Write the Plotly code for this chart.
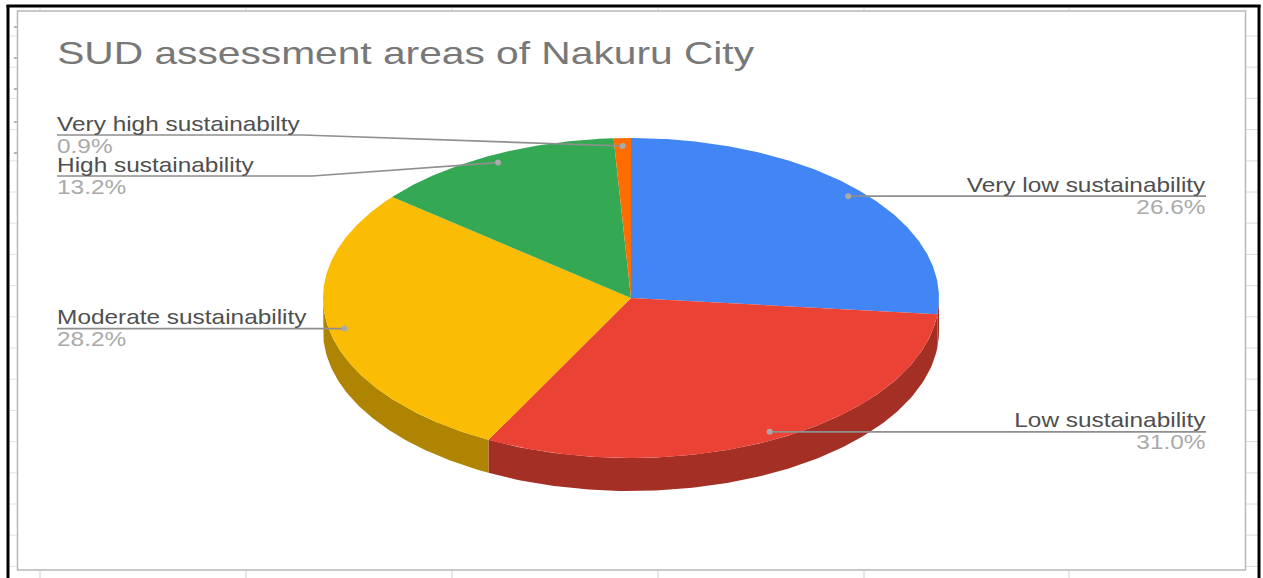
import numpy as np
import plotly.graph_objects as go

# Share of assessment areas per sustainability class (percent)
categories = ["Very low sustainability", "Low sustainability", "Moderate sustainability",
              "High sustainability", "Very high sustainabilty"]
shares = [26.6, 31.0, 28.2, 13.2, 0.9]
share_labels = ["26.6%", "31.0%", "28.2%", "13.2%", "0.9%"]
top_colors = ["#4285f4", "#ea4335", "#fbbc04", "#34a853", "#ff6d01"]
side_colors = ["#a42f25", "#a42f25", "#b08403", "#247538", "#b34c01"]
title_text = "SUD assessment areas of Nakuru City"

# Tilted-disc geometry in axis units (the axes run 1:1 with the page)
CX, CY, RX, RY, DEPTH = 631.0, 298.0, 308.0, 160.0, 33.0
ANCHOR_R = 0.95
LABEL_LEFT, LABEL_RIGHT = 57, 1206

# Leader settings per class: side, label y, elbow x
label_side = ["right", "right", "left", "left", "left"]
label_y = [197, 431, 329, 176, 135]
elbow_x = [None, None, None, 312, 303]

TEXT_DARK = "#4f4f4f"
TEXT_LIGHT = "#aaaaaa"
LEADER = "#8f8f8f"
FONT = "Liberation Sans"
TITLE_SIZE, LABEL_SIZE = 31.5, 21
TITLE_STRETCH, LABEL_STRETCH = 1.293, 1.162


def rim(theta_deg, drop=0.0, r=1.0):
    t = np.radians(theta_deg)
    return CX + r * RX * np.sin(t), CY - r * RY * np.cos(t) + drop


total = sum(shares)
edges = np.concatenate([[0.0], np.cumsum(shares)]) / total * 360.0

fig = go.Figure()

# Rim of the disc: only the part facing the viewer (90..270 degrees)
for i, name in enumerate(categories):
    a, b = max(edges[i], 90.0), min(edges[i + 1], 270.0)
    if a >= b:
        continue
    th = np.linspace(a, b, 120)
    x1, y1 = rim(th)
    x2, y2 = rim(th[::-1], DEPTH)
    fig.add_trace(go.Scatter(x=np.r_[x1, x2], y=np.r_[y1, y2], fill="toself",
                             fillcolor=side_colors[i], mode="lines", line=dict(width=0),
                             hoverinfo="skip", showlegend=False))

# Top face of each slice
for i, name in enumerate(categories):
    th = np.linspace(edges[i], edges[i + 1], 160)
    x, y = rim(th)
    fig.add_trace(go.Scatter(x=np.r_[CX, x, CX], y=np.r_[CY, y, CY], fill="toself",
                             fillcolor=top_colors[i], mode="lines", line=dict(width=0),
                             name=name, text=share_labels[i], hoverinfo="name+text",
                             showlegend=False))

# Leader lines with a dot on each slice, plus the two-line labels
for i, name in enumerate(categories):
    mid = (edges[i] + edges[i + 1]) / 2.0
    ax, ay = rim(mid, r=ANCHOR_R)
    right = label_side[i] == "right"
    end = LABEL_RIGHT if right else LABEL_LEFT
    if elbow_x[i] is None:
        lx, ly = [float(ax), end], [float(ay), float(ay)]
        y0 = float(ay)
    else:
        lx, ly = [float(ax), elbow_x[i], end], [float(ay), label_y[i], label_y[i]]
        y0 = label_y[i]
    fig.add_trace(go.Scatter(x=lx, y=ly, mode="lines", line=dict(color=LEADER, width=1.6),
                             hoverinfo="skip", showlegend=False))
    fig.add_trace(go.Scatter(x=[float(ax)], y=[float(ay)], mode="markers",
                             marker=dict(color="#a9a9a9", size=6), hoverinfo="skip",
                             showlegend=False))
    anchor = "right" if right else "left"
    shift = 2 if right else -2
    fig.add_annotation(x=end, y=y0 - 12, text=name, showarrow=False, xanchor=anchor, xshift=shift,
                       yanchor="middle", font=dict(family=FONT, size=LABEL_SIZE, color=TEXT_DARK))
    fig.add_annotation(x=end, y=y0 + 10, text=share_labels[i], showarrow=False, xanchor=anchor,
                       xshift=shift, yanchor="middle",
                       font=dict(family=FONT, size=LABEL_SIZE, color=TEXT_LIGHT))

fig.add_annotation(x=LABEL_LEFT, y=53, text=title_text, showarrow=False, xanchor="left", xshift=-2,
                   yanchor="middle", font=dict(family=FONT, size=TITLE_SIZE, color="#787878"))

# Worksheet cell ticks showing around the chart card, the card border and the outer frame
shapes = []
for k in range(18):
    y = 36 + 31.2 * k
    shapes.append(dict(type="line", x0=9, x1=17, y0=y, y1=y, line=dict(color="#e2e2e2", width=1)))
    shapes.append(dict(type="line", x0=1246, x1=1258, y0=y, y1=y, line=dict(color="#dcdcdc", width=1)))
for y in (27, 58, 89, 122, 153):
    shapes.append(dict(type="line", x0=14, x1=17, y0=y, y1=y, line=dict(color="#6a6a6a", width=1)))
for x in (40, 246, 452, 658, 864, 1069):
    shapes.append(dict(type="line", x0=x, x1=x, y0=7, y1=11, line=dict(color="#dcdcdc", width=1)))
    shapes.append(dict(type="line", x0=x, x1=x, y0=571, y1=578, line=dict(color="#cfcfcf", width=1)))
shapes.append(dict(type="rect", x0=17.5, x1=1245.5, y0=11, y1=570, line=dict(color="#b8b8b8", width=1.5)))
shapes.append(dict(type="line", x0=8, x1=8, y0=5, y1=578, line=dict(color="#000000", width=3)))
shapes.append(dict(type="line", x0=1259, x1=1259, y0=5, y1=578, line=dict(color="#000000", width=3)))
shapes.append(dict(type="line", x0=6.5, x1=1260.5, y0=6, y1=6, line=dict(color="#000000", width=3)))

fig.update_layout(
    width=1263, height=578, margin=dict(l=0, r=0, t=0, b=0),
    paper_bgcolor="white", plot_bgcolor="white", shapes=shapes,
    xaxis=dict(range=[0, 1263], visible=False, fixedrange=True),
    yaxis=dict(range=[578, 0], visible=False, fixedrange=True),
)

# The chart's lettering is set wide: stretch each annotation horizontally about its anchored edge
widen_text = """
var gd = document.getElementsByClassName('plotly-graph-div')[0];
gd.querySelectorAll('.annotation-text').forEach(function (t) {
  var box = t.getBBox();
  var isTitle = t.textContent.indexOf('SUD') === 0;
  var s = isTitle ? %s : %s;
  var page = t.getBoundingClientRect();
  var pin = page.left > 600 ? box.x + box.width : box.x;
  t.setAttribute('transform', 'translate(' + pin * (1 - s) + ',0) scale(' + s + ',1)');
});
""" % (TITLE_STRETCH, LABEL_STRETCH)

fig.write_html("out.html", post_script=widen_text)
